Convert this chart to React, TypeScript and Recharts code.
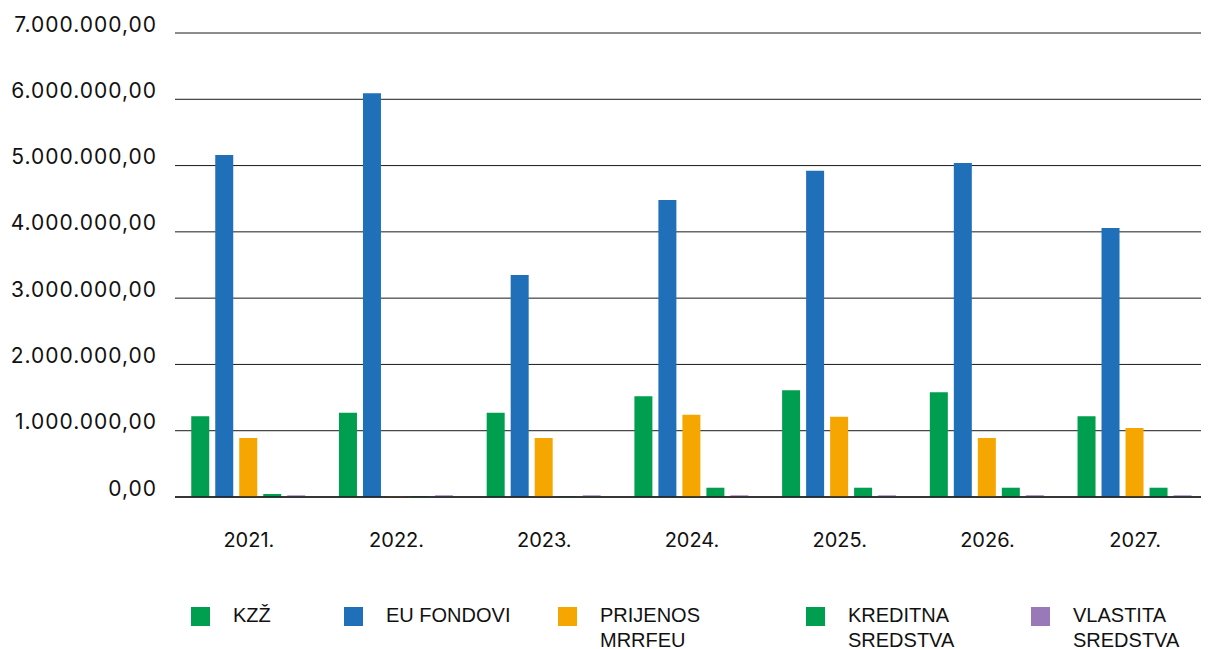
import React from 'react';
import { Bar, BarChart, CartesianGrid, Legend, XAxis, YAxis } from 'recharts';

// godine
const years = ['2021.', '2022.', '2023.', '2024.', '2025.', '2026.', '2027.'];

// iznosi po izvoru financiranja
const kzz = [1220000, 1270000, 1270000, 1520000, 1610000, 1580000, 1220000];
const euFondovi = [5160000, 6090000, 3350000, 4480000, 4920000, 5040000, 4060000];
const prijenosMrrfeu = [890000, 10000, 890000, 1240000, 1210000, 890000, 1040000];
const kreditnaSredstva = [45000, 10000, 8000, 140000, 140000, 140000, 140000];
const vlastitaSredstva = [25000, 25000, 25000, 25000, 25000, 25000, 25000];

const yTicks = [0, 1000000, 2000000, 3000000, 4000000, 5000000, 6000000, 7000000];

const seriesKeys = ['kzz', 'eu', 'prijenos', 'kreditna', 'vlastita'];
const seriesLabels = ['KZŽ', 'EU FONDOVI', 'PRIJENOS\nMRRFEU', 'KREDITNA\nSREDSTVA', 'VLASTITA\nSREDSTVA'];
const seriesColors = ['#009E4F', '#1F70B9', '#F6A600', '#009E4F', '#9A79B8'];

// razmak legendnih stavki
const legendWidths = [153, 214, 248, 225, 150];

const data = years.map((year, i) => ({
    year,
    kzz: kzz[i],
    eu: euFondovi[i],
    prijenos: prijenosMrrfeu[i],
    kreditna: kreditnaSredstva[i],
    vlastita: vlastitaSredstva[i],
}));

const formatHr = (v: number) => {
    const int = Math.floor(v).toString().replace(/\B(?=(\d{3})+(?!\d))/g, '.');
    return int + ',00';
};

const tickFont = 'Inter, "Noto Sans", sans-serif';

const YTick = (props: any) => {
    const { x, y, payload } = props;
    return (
        <text x={x} y={y - 9} textAnchor="end" dominantBaseline="central" fontSize={21} letterSpacing={1} fontFamily={tickFont} fill="#111">
            {formatHr(payload.value)}
        </text>
    );
};

const XTick = (props: any) => {
    const { x, y, payload } = props;
    return (
        <text x={x} y={y + 8} textAnchor="middle" dominantBaseline="central" fontSize={20} fontFamily={tickFont} fill="#111">
            {payload.value}
        </text>
    );
};

const LegendContent = () => (
    <div style={{ display: 'flex', paddingLeft: 183, paddingTop: 8, fontFamily: '"Liberation Sans", Arial, sans-serif', fontSize: 20, color: '#111' }}>
        {seriesLabels.map((label, i) => (
            <div key={seriesKeys[i]} style={{ display: 'flex', width: legendWidths[i], alignItems: 'flex-start' }}>
                <span style={{ width: 19, height: 19, background: seriesColors[i], marginRight: 23, flexShrink: 0 }} />
                <span style={{ whiteSpace: 'pre', lineHeight: '25px', marginTop: -4 }}>{label}</span>
            </div>
        ))}
    </div>
);

export default function App() {
    return (
        <BarChart
            width={1201}
            height={641}
            data={data}
            margin={{ top: 25, right: 0, left: 0, bottom: 0 }}
            barCategoryGap="11%"
            barGap={6}
        >
            <CartesianGrid vertical={false} stroke="#1a1a1a" />
            <XAxis
                dataKey="year"
                height={102}
                tickLine={false}
                tickSize={0}
                tickMargin={35}
                axisLine={{ stroke: '#1a1a1a', strokeWidth: 1.5 }}
                tick={<XTick />}
            />
            <YAxis
                width={167}
                domain={[0, 7000000]}
                ticks={yTicks}
                interval={0}
                axisLine={false}
                tickLine={false}
                tickSize={0}
                tickMargin={18}
                tick={<YTick />}
            />
            <Legend
                verticalAlign="bottom"
                height={50}
                content={<LegendContent />}
                wrapperStyle={{ position: 'absolute', left: 0, top: 591, width: 1201, height: 50 }}
            />
            {seriesKeys.map((key, i) => (
                <Bar key={key} dataKey={key} fill={seriesColors[i]} isAnimationActive={false} />
            ))}
        </BarChart>
    );
}
